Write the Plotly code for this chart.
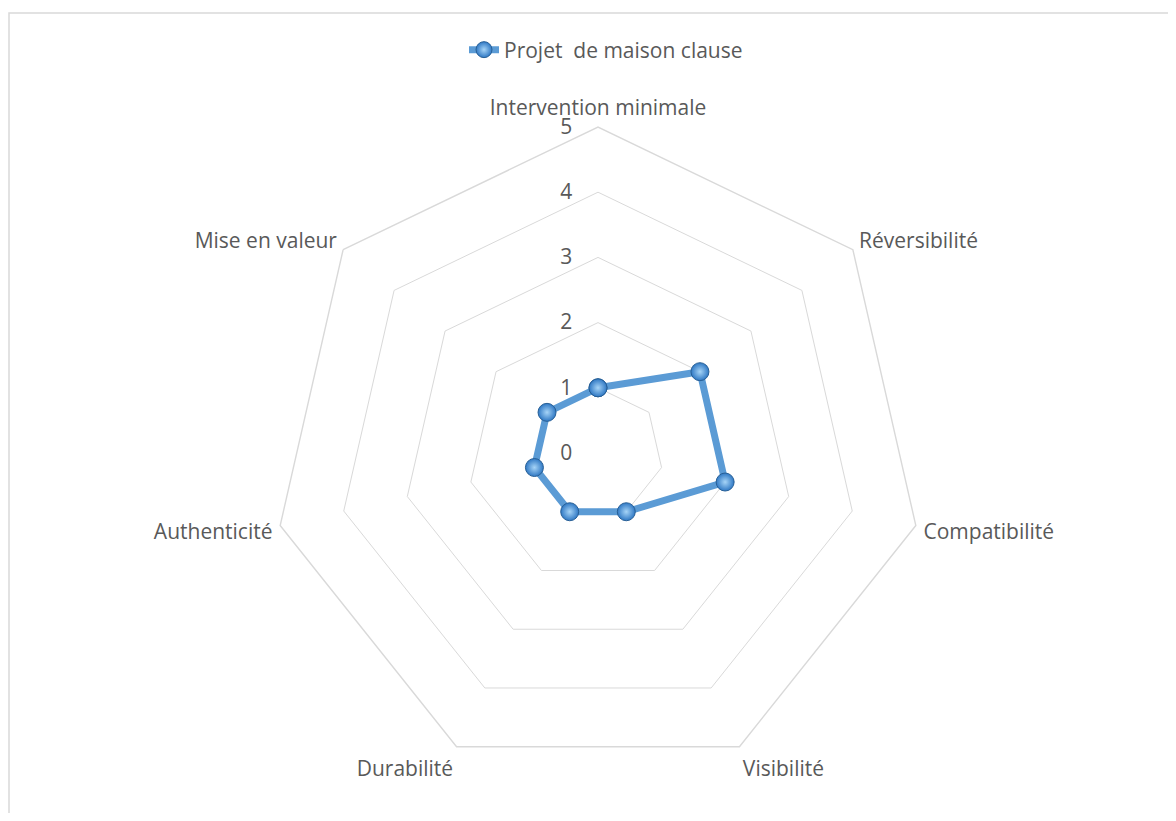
import plotly.graph_objects as go

categories = ["Intervention minimale", "Réversibilité", "Compatibilité", "Visibilité",
              "Durabilité", "Authenticité", "Mise en valeur"]
values = [1, 2, 2, 1, 1, 1, 1]
series_name = "Projet\u00a0 de maison clause"
radial_ticks = [0, 1, 2, 3, 4, 5]

# the page body has an 8px margin; size the figure so it fits the window
OFF = 8
W, H = 1176 - 2 * OFF, 821 - 2 * OFF
cx, cy, R = 598 - OFF, 453 - OFF, 326

FONT = "Open Sans, Lato, sans-serif"
GREY = "#595959"
FS = 21

fig = go.Figure()
fig.add_trace(go.Scatterpolar(
    r=values + values[:1],
    theta=categories + categories[:1],
    mode="lines+markers",
    name=series_name,
    line=dict(color="#5B9BD5", width=7),
    marker=dict(size=18, color="#2f78c4",
                gradient=dict(type="radial", color="#a6d4f7"),
                line=dict(color="#275f96", width=1)),
))

fig.update_layout(
    width=W, height=H,
    margin=dict(l=0, r=0, t=0, b=0),
    paper_bgcolor="white",
    plot_bgcolor="white",
    font=dict(family=FONT, size=FS, color=GREY),
    showlegend=True,
    legend=dict(orientation="h", x=0.5 + 18 / W, xanchor="center", y=(H - (50 - OFF)) / H,
                yanchor="middle",
                font=dict(family=FONT, size=FS, color=GREY), bgcolor="rgba(0,0,0,0)"),
    polar=dict(
        domain=dict(x=[(cx - R) / W, (cx + R) / W], y=[(H - cy - R) / H, (H - cy + R) / H]),
        bgcolor="white",
        gridshape="linear",
        radialaxis=dict(range=[0, 5], tickvals=radial_ticks, angle=90, tickangle=90,
                        side="counterclockwise", showline=False,
                        ticks="outside", ticklen=18, tickcolor="rgba(0,0,0,0)",
                        gridcolor="#d9d9d9", gridwidth=1.4,
                        tickfont=dict(family=FONT, size=FS, color=GREY)),
        angularaxis=dict(direction="clockwise", rotation=90, showgrid=False,
                         showline=True, linecolor="#d9d9d9", linewidth=1.4,
                         ticks="outside", ticklen=3, tickcolor="rgba(0,0,0,0)",
                         tickfont=dict(family=FONT, size=FS, color=GREY)),
    ),
    shapes=[dict(type="rect", xref="paper", yref="paper",
                 x0=1 / W, x1=1.02, y0=-0.02, y1=(H - (13 - OFF)) / H,
                 line=dict(color="#d9d9d9", width=1.5), fillcolor="rgba(0,0,0,0)")],
)

fig.write_html("out.html")
